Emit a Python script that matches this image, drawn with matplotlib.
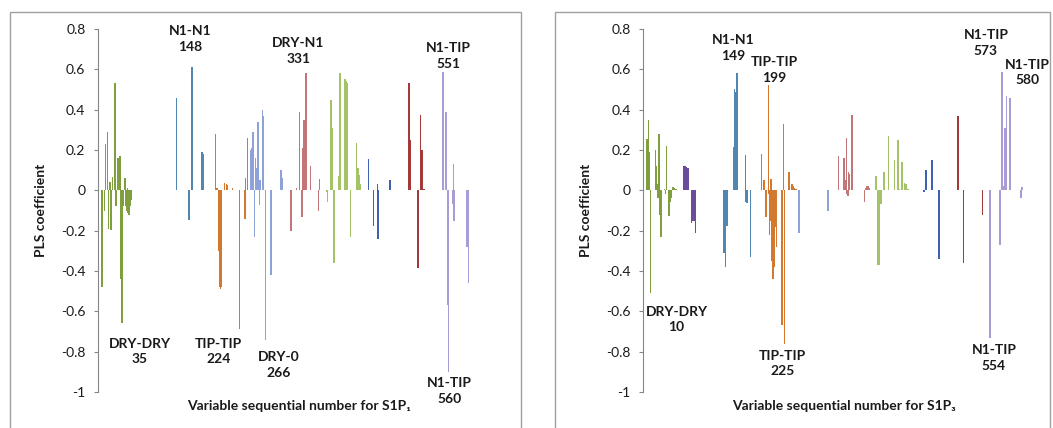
import numpy as np
import matplotlib
matplotlib.use("Agg")
import matplotlib.pyplot as plt
from matplotlib.patches import Rectangle

plt.rcParams['font.family'] = ['Lato', 'DejaVu Sans']

# ---------------- panel 1 : S1P1 ----------------
p1_dry_dry_x = [3, 7, 9, 12, 14, 16, 18, 20, 24, 26, 29, 32, 33, 35, 36, 38, 40, 41, 43, 44, 45, 47, 48, 50]
p1_dry_dry_y = [-0.48, -0.10, 0.23, 0.29, -0.19, 0.04, -0.195, 0.065, 0.53, -0.08, 0.16, 0.17, -0.44, -0.66,
                -0.30, -0.08, 0.06, -0.08, -0.10, 0.01, -0.11, -0.12, -0.08, -0.05]
p1_n1_n1_x = [123, 143, 148, 164, 165, 166]
p1_n1_n1_y = [0.46, -0.145, 0.61, 0.19, 0.185, 0.18]
p1_tip_tip_x = [186, 188, 191, 192, 193, 194, 195, 200, 203, 204, 213, 224, 233, 234, 237]
p1_tip_tip_y = [0.28, 0.01, -0.30, -0.30, -0.48, -0.49, -0.48, 0.035, 0.03, 0.025, 0.01, -0.69, -0.14, 0.06, 0.26]
p1_dry_o_x = [242, 244, 246, 248, 250, 252, 254, 256, 257, 261, 263, 266, 275, 290, 291, 292, 293]
p1_dry_o_y = [0.20, 0.21, 0.29, -0.23, 0.16, 0.11, 0.34, -0.075, 0.05, 0.40, 0.37, -0.74, -0.42, 0.10, 0.10, 0.09, 0.06]
p1_dry_n1_x = [307, 316, 321, 325, 326, 328, 329, 331, 338, 351, 353]
p1_dry_n1_y = [-0.20, 0.01, 0.39, -0.13, 0.21, 0.35, 0.21, 0.58, 0.12, -0.10, 0.055]
p1_green_x = [364, 366, 371, 373, 375, 376, 377, 384, 386, 394, 395, 396, 397, 403, 412, 415, 417, 419]
p1_green_y = [-0.01, -0.06, 0.45, 0.31, -0.12, -0.36, -0.36, 0.07, 0.58, 0.55, 0.47, 0.54, 0.53, -0.23, 0.235,
              0.11, 0.075, 0.03]
p1_blue_x = [432, 440, 446, 447, 448, 466]
p1_blue_y = [0.155, -0.175, 0.03, -0.24, -0.055, 0.05]
p1_red_x = [497, 499, 511, 515, 518, 520, 522]
p1_red_y = [0.53, 0.25, -0.385, 0.375, 0.20, 0.005, 0.005]
p1_n1_tip_x = [551, 556, 559, 560, 567, 568, 569, 590, 592]
p1_n1_tip_y = [0.585, 0.39, -0.57, -0.90, -0.07, 0.13, -0.15, -0.28, -0.46]

# ---------------- panel 2 : S1P3 ----------------
p2_dry_dry_x = [5, 7, 8, 10, 18, 19, 21, 22, 24, 25, 27, 28, 33, 34, 36, 40, 42, 44, 46, 48, 51]
p2_dry_dry_y = [0.255, 0.35, 0.19, -0.51, 0.20, 0.12, 0.03, -0.04, 0.28, -0.12, -0.23, -0.17, 0.005, -0.02,
                0.22, -0.125, -0.06, -0.04, 0.015, 0.01, 0.005]
p2_purple_x = [64, 66, 67, 69, 70, 76, 78, 80, 82]
p2_purple_y = [0.12, 0.12, 0.115, 0.11, 0.11, -0.16, -0.15, -0.15, -0.21]
p2_n1_n1_x = [128, 130, 131, 133, 143, 145, 147, 149, 162, 163, 165, 170]
p2_n1_n1_y = [-0.31, -0.38, -0.10, -0.175, 0.215, 0.50, 0.49, 0.58, 0.175, -0.06, -0.065, -0.33]
p2_tip_tip_x = [188, 192, 194, 195, 199, 200, 201, 202, 203, 204, 205, 206, 207, 208, 209, 210, 211, 212,
                221, 223, 225, 232, 237, 239, 241, 243]
p2_tip_tip_y = [0.18, 0.05, -0.03, -0.13, 0.52, -0.02, -0.22, -0.15, 0.055, -0.20, -0.35, -0.44, -0.40, -0.38,
                -0.30, -0.18, -0.16, -0.28, -0.67, 0.33, -0.76, 0.09, 0.03, 0.02, 0.01, 0.005]
p2_dry_o_x = [248, 294]
p2_dry_o_y = [-0.21, -0.10]
p2_dry_n1_x = [311, 319, 320, 321, 322, 324, 325, 326, 327, 329, 333, 353, 355, 356, 358, 360]
p2_dry_n1_y = [0.17, 0.06, 0.16, 0.15, 0.05, 0.26, -0.02, -0.03, 0.09, 0.08, 0.375, -0.06, 0.01, 0.02, 0.02, 0.01]
p2_green_x = [371, 374, 376, 377, 378, 379, 380, 384, 391, 401, 406, 409, 413, 417, 419, 420, 422]
p2_green_y = [0.07, -0.37, -0.37, -0.07, -0.07, -0.07, -0.06, 0.09, 0.27, 0.15, 0.25, 0.005, 0.14, 0.035,
              0.03, 0.015, 0.005]
p2_blue_x = [448, 451, 461, 472]
p2_blue_y = [-0.01, 0.10, 0.15, -0.34]
p2_red_x = [502, 503, 511, 542]
p2_red_y = [0.37, 0.27, -0.36, -0.12]
p2_n1_tip_x = [554, 570, 573, 576, 577, 578, 580, 586, 603, 605]
p2_n1_tip_y = [-0.73, -0.27, 0.585, 0.02, 0.03, 0.31, 0.47, 0.46, -0.04, 0.015]

# labels of the extreme variables
p1_notes = ['N1-N1\n148', 'DRY-DRY\n35', 'TIP-TIP\n224', 'DRY-0\n266', 'DRY-N1\n331', 'N1-TIP\n551', 'N1-TIP\n560']
p1_note_pos = [(145, 0.75), (64, -0.80), (191, -0.80), (287, -0.865), (319, 0.69), (560, 0.665), (562, -0.995)]
p2_notes = ['N1-N1\n149', 'TIP-TIP\n199', 'DRY-DRY\n10', 'TIP-TIP\n225', 'N1-TIP\n573', 'N1-TIP\n580', 'N1-TIP\n554']
p2_note_pos = [(143, 0.705), (208, 0.596), (52, -0.64), (222, -0.858), (547, 0.73), (613, 0.584), (560, -0.832)]

c_green = '#7F9F3E'
c_n1n1 = '#4F86B2'
c_orange = '#D2782F'
c_peri = '#8EA2DA'
c_rose = '#C27677'
c_lgreen = '#A4C267'
c_dblue = '#3F62AE'
c_dred = '#A43A38'
c_lav = '#A99CD4'
c_purple = '#6B4C9A'

panel1 = [(p1_dry_dry_x, p1_dry_dry_y, c_green), (p1_n1_n1_x, p1_n1_n1_y, c_n1n1),
          (p1_tip_tip_x, p1_tip_tip_y, c_orange), (p1_dry_o_x, p1_dry_o_y, c_peri),
          (p1_dry_n1_x, p1_dry_n1_y, c_rose), (p1_green_x, p1_green_y, c_lgreen),
          (p1_blue_x, p1_blue_y, c_dblue), (p1_red_x, p1_red_y, c_dred),
          (p1_n1_tip_x, p1_n1_tip_y, c_lav)]
panel2 = [(p2_dry_dry_x, p2_dry_dry_y, c_green), (p2_purple_x, p2_purple_y, c_purple),
          (p2_n1_n1_x, p2_n1_n1_y, c_n1n1), (p2_tip_tip_x, p2_tip_tip_y, c_orange),
          (p2_dry_o_x, p2_dry_o_y, c_peri), (p2_dry_n1_x, p2_dry_n1_y, c_rose),
          (p2_green_x, p2_green_y, c_lgreen), (p2_blue_x, p2_blue_y, c_dblue),
          (p2_red_x, p2_red_y, c_dred), (p2_n1_tip_x, p2_n1_tip_y, c_lav)]

W, H = 1053, 428
fig = plt.figure(figsize=(W / 100, H / 100), dpi=100)
fig.patch.set_facecolor('white')

# panel frames (open at the bottom, as in the cropped original)
for x0, x1 in [(10, 521), (555, 1050)]:
    fig.add_artist(Rectangle((x0 / W, -0.1), (x1 - x0) / W, 1.1 - 12 / H,
                             transform=fig.transFigure, fill=False, ec='#A0A0A0', lw=1))

ax1 = fig.add_axes([98 / W, 36 / H, 402 / W, 363 / H])
ax2 = fig.add_axes([643 / W, 36 / H, 401 / W, 363 / H])

yticks = np.round(np.arange(-1, 0.81, 0.2), 1)
ytick_labels = ['0' if abs(v) < 1e-9 else f'{v:g}' for v in yticks]

for ax, groups, notes, pos, xl, sub in [(ax1, panel1, p1_notes, p1_note_pos, (-3.2, 643), '\u2081'),
                                         (ax2, panel2, p2_notes, p2_note_pos, (-1.6, 640), '\u2083')]:
    for gx, gy, col in groups:
        ax.bar(gx, gy, width=2.4, color=col, linewidth=0)
    ax.set_xlim(*xl)
    ax.set_ylim(-1, 0.8)
    ax.set_yticks(yticks)
    ax.set_yticklabels(ytick_labels)
    ax.set_xticks([])
    for s in ['top', 'right', 'bottom']:
        ax.spines[s].set_visible(False)
    ax.spines['left'].set_color('#868686')
    ax.tick_params(axis='y', direction='out', length=3, color='#868686', labelsize=10, pad=6,
                   labelcolor='#1a1a1a')
    ax.set_facecolor('none')
    for t, (tx, ty) in zip(notes, pos):
        ax.text(tx, ty, t, ha='center', va='center', fontsize=10, fontweight='bold',
                linespacing=1.35, color='#1a1a1a')
    ax.text(-0.143, 0.5, 'PLS coefficient', transform=ax.transAxes, rotation=90, ha='center',
            va='center', fontsize=10, fontweight='bold', color='#1a1a1a')
    ax.text(0.5, -0.038, 'Variable sequential number for S1P' + sub, transform=ax.transAxes,
            ha='center', va='center', fontsize=10, fontweight='bold', color='#1a1a1a')

fig.savefig('out.png', dpi=100)
